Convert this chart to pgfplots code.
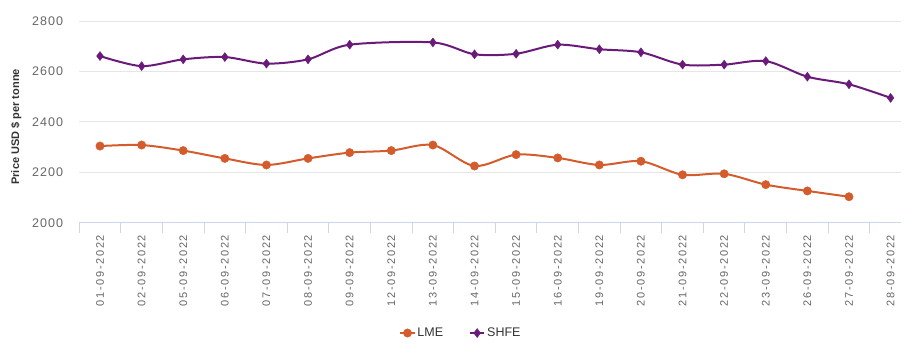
\documentclass[border=0pt]{standalone}
\usepackage{fontspec}
\setmainfont{Liberation Sans}
\newfontfamily\xtickfont[LetterSpace=15]{Liberation Sans}
\newfontfamily\ytickfont[LetterSpace=8]{Liberation Sans}
\usepackage{pgfplots}
\pgfplotsset{compat=1.18}
\definecolor{lmecol}{HTML}{D35B2C}
\definecolor{shfecol}{HTML}{6A1B7A}
\definecolor{gridcol}{HTML}{E6E6E6}
\definecolor{axiscol}{HTML}{CCD6EB}
\definecolor{labcol}{HTML}{666666}
\definecolor{txtcol}{HTML}{333333}
\begin{document}
\begin{tikzpicture}[x=1pt,y=1pt]
\path[use as bounding box] (0,0) rectangle (914,354);
\begin{axis}[
  at={(79.2pt,131.3pt)}, anchor=south west,
  scale only axis, width=821.8pt, height=201.7pt,
  xmin=-0.5, xmax=19.25, ymin=2000, ymax=2800,
  ytick={2000,2200,2400,2600,2800},
  ymajorgrids, grid style={draw=gridcol, line width=0.8pt},
  axis x line*=bottom, axis y line*=left,
  y axis line style={draw=none},
  x axis line style={draw=axiscol, line width=1pt, -},
  ytick style={draw=none},
  yticklabel style={font=\ytickfont\fontsize{12.5}{12.5}\selectfont, text=labcol, anchor=east, inner sep=0pt},
  yticklabel shift=6pt,
  y tick label style={/pgf/number format/1000 sep={}},
  /pgf/number format/assume math mode=true,
  xtick={-0.5,0.5,...,18.5},
  xticklabels={},
  xtick style={draw=axiscol, line width=1pt},
  major tick length=10pt, tick align=outside,
  extra x ticks={0,1,...,19},
  extra x tick labels={01-09-2022,02-09-2022,05-09-2022,06-09-2022,07-09-2022,08-09-2022,09-09-2022,12-09-2022,13-09-2022,14-09-2022,15-09-2022,16-09-2022,19-09-2022,20-09-2022,21-09-2022,22-09-2022,23-09-2022,26-09-2022,27-09-2022,28-09-2022},
  extra x tick style={major tick length=0pt, xtick style={draw=none},
     xticklabel style={rotate=90, anchor=east, inner sep=0pt, font=\xtickfont\fontsize{11}{11}\selectfont, text=labcol},
     xticklabel shift=12pt},
  ylabel={Price USD \$ per tonne},
  every axis y label/.style={at={([xshift=-63pt]axis description cs:0,0.475)}, rotate=90, anchor=center,
     font=\bfseries\fontsize{11}{11}\selectfont, text=txtcol},
  legend style={at={(0.4646,-0.547)}, anchor=center, draw=none, fill=none,
     legend columns=2, font=\fontsize{12.5}{12.5}\selectfont, text=txtcol,
     /tikz/every even column/.append style={column sep=24pt}},
  legend image code/.code={\draw[mark repeat=2,mark phase=2] plot coordinates {(0pt,0pt) (7pt,0pt) (14pt,0pt)};},
  clip=false,
]
\addplot[color=lmecol, line width=2pt, smooth, tension=0.5, mark=*, mark size=4.2pt, mark options={solid, fill=lmecol, draw=lmecol, line width=0.4pt}]
  coordinates {(0,2304) (1,2308) (2,2286) (3,2255) (4,2229) (5,2255) (6,2278) (7,2286) (8,2308) (9,2225) (10,2270) (11,2257) (12,2229) (13,2244) (14,2190) (15,2194) (16,2151) (17,2126) (18,2103)};
\addlegendentry{LME}
\addplot[color=shfecol, line width=2pt, smooth, tension=0.5, mark=diamond*, mark size=4.5pt, mark options={solid, fill=shfecol, draw=shfecol, line width=0.4pt}]
  coordinates {(0,2661) (1,2621) (2,2648) (3,2657) (4,2631) (5,2648) (6,2706) (8,2715) (9,2668) (10,2670) (11,2706) (12,2688) (13,2676) (14,2627) (15,2627) (16,2641) (17,2579) (18,2549) (19,2495)};
\addlegendentry{SHFE}
\end{axis}
\end{tikzpicture}
\end{document}
